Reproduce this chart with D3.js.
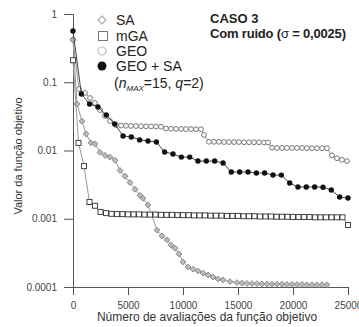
<!DOCTYPE html>
<html>
<head>
<meta charset="utf-8">
<script src="https://cdn.jsdelivr.net/npm/d3@7"></script>
<style>
  body { margin: 0; background: #fff; }
  svg { display: block; font-family: 'Liberation Sans', Arial, sans-serif; }
</style>
</head>
<body>
<svg id="chart" width="359" height="327"></svg>
<script>
// values
const saX = [0, 360, 820, 1180, 1640, 2000, 2450, 2910, 3360, 3820, 4270, 4730, 5180, 5640, 6090, 6360, 6820,
  7640, 8090, 8550, 8910, 9270, 9640, 10000, 10450, 10910, 11360, 11820, 12270, 12730, 13180, 13640, 14270, 14910,
  15360, 15820, 16270, 16730, 17180, 17640, 18090, 18550, 19000, 19450, 19910, 20360, 20820, 21270, 21730, 22180, 22640, 23090];
const saY = [0.42, 0.048, 0.027, 0.0175, 0.0129, 0.0125, 0.0094, 0.0085, 0.008, 0.0072, 0.0051, 0.0042, 0.0034, 0.0027, 0.0022, 0.002, 0.00159,
  0.00068, 0.00056, 0.00049, 0.00041, 0.00037, 0.000305, 0.000233, 0.000196, 0.000183, 0.000172, 0.00016, 0.00015, 0.00014, 0.000131, 0.000127, 0.00012, 0.000116,
  0.000114, 0.000113, 0.000112, 0.000112, 0.000111, 0.000111, 0.00011, 0.00011, 0.00011, 0.000109, 0.000109, 0.000109, 0.000109, 0.000108, 0.000108, 0.000108, 0.000108, 0.000108];

const mgaX = [0, 500, 1000, 1500, 2000, 2500, 3000, 3500, 4000, 4500,
  5000, 5500, 6000, 6500, 7000, 7500, 8000, 8500, 9000, 9500,
  10000, 10500, 11000, 11500, 12000, 12500, 13000, 13500, 14000, 14500,
  15000, 15500, 16000, 16500, 17000, 17500, 18000, 18500, 19000, 19500,
  20000, 20500, 21000, 21500, 22000, 22500, 23000, 23500, 24000, 24500, 25000];
const mgaY = [0.21, 0.0129, 0.0059, 0.00176, 0.00155, 0.00126, 0.00121, 0.00118, 0.00117, 0.00117,
  0.00116, 0.00116, 0.00116, 0.00115, 0.00115, 0.00115, 0.00114, 0.00114, 0.00114, 0.00113,
  0.00113, 0.00113, 0.00112, 0.00112, 0.00112, 0.00111, 0.00111, 0.00111, 0.0011, 0.0011,
  0.0011, 0.00109, 0.00109, 0.00109, 0.00108, 0.00108, 0.00108, 0.00107, 0.00107, 0.00107,
  0.00106, 0.00106, 0.00106, 0.00106, 0.00105, 0.00105, 0.00105, 0.00105, 0.00105, 0.00105, 0.00081];

const geoX = [0, 545, 1090, 1545, 2000, 2455, 2910, 3365, 3910, 4365, 4820, 5270, 5730, 6180, 6640, 7090, 7545, 8000,
  8455, 8910, 9365, 9820, 10270, 10730, 11180, 11640, 11910, 12360, 12820, 13270, 13730, 14180, 14640, 15090, 15550,
  16000, 16450, 16910, 17360, 17730, 18090, 18545, 19000, 19450, 19910, 20360, 20820, 21270, 21730, 22180, 22640,
  23090, 23545, 24000, 24450, 24910];
const geoY = [0.42, 0.0796, 0.0696, 0.0588, 0.0497, 0.0392, 0.032, 0.027, 0.0236, 0.0232, 0.023, 0.0229, 0.0228, 0.0227, 0.0226, 0.0225, 0.0224, 0.0223,
  0.021, 0.0208, 0.0207, 0.0207, 0.0206, 0.0206, 0.0205, 0.0205, 0.0169, 0.0134, 0.0134, 0.0134, 0.0133, 0.0133, 0.0133, 0.0133, 0.0132,
  0.0132, 0.0132, 0.0132, 0.0131, 0.0131, 0.011, 0.0109, 0.0109, 0.0109, 0.0109, 0.0109, 0.0109, 0.0108, 0.0108, 0.0108, 0.0108,
  0.0108, 0.0085, 0.0077, 0.0073, 0.007];

const geoSaX = [0, 760, 1510, 2270, 3030, 3790, 4550, 5300, 6060, 6820, 7580, 8330, 9090, 9850, 10610, 11360, 12120,
  12880, 13640, 14390, 15150, 15910, 16670, 17420, 18180, 18940, 19700, 20450, 21210, 21970, 22730, 23480, 24240, 25000];
const geoSaY = [0.563, 0.0673, 0.048, 0.0434, 0.0331, 0.0245, 0.0163, 0.0158, 0.0143, 0.0138, 0.0133, 0.0095, 0.0089, 0.008, 0.008, 0.007, 0.007,
  0.007, 0.00656, 0.00484, 0.00484, 0.00484, 0.00468, 0.00468, 0.00438, 0.00436, 0.00334, 0.00292, 0.00292, 0.00292, 0.0029, 0.00264, 0.00208, 0.00201];

const xMajor = [0, 5000, 10000, 15000, 20000, 25000];
const xMinor = [2500, 7500, 12500, 17500, 22500];
const yMajor = [1, 0.1, 0.01, 0.001, 0.0001];
const yMajorLabels = ['1', '0.1', '0.01', '0.001', '0.0001'];

const svg = d3.select('#chart');

const x = d3.scaleLinear().domain([0, 25000]).range([73, 348]);
const y = d3.scaleLog().domain([0.0001, 1]).range([287, 14]);

// minor log ticks 2..9 of each decade
const yMinor = [];
yMajor.slice(1).forEach(d => {
  for (let k = 2; k <= 9; k++) yMinor.push(d * k);
});

const axisColor = '#555';

const gx = svg.append('g').attr('transform', `translate(0,${y(0.0001)})`);
gx.call(d3.axisBottom(x).tickValues(xMinor).tickSize(4).tickFormat(''));
gx.call(
  d3
    .axisBottom(x)
    .tickValues(xMajor)
    .tickSize(8)
    .tickPadding(7)
    .tickFormat(d3.format('d'))
);
gx.selectAll('.domain').attr('stroke', axisColor);
gx.selectAll('line').attr('stroke', axisColor);
gx.selectAll('text').attr('fill', '#444').style('font-size', '10px');

const gy = svg.append('g').attr('transform', `translate(${x(0)},0)`);
gy.call(d3.axisLeft(y).tickValues(yMinor).tickSize(5).tickFormat(''));
gy.call(
  d3
    .axisLeft(y)
    .tickValues(yMajor)
    .tickSize(9)
    .tickPadding(7)
    .tickFormat((d, i) => yMajorLabels[i])
);
gy.selectAll('.domain').attr('stroke', axisColor);
gy.selectAll('line').attr('stroke', axisColor);
gy.selectAll('text').attr('fill', '#444').style('font-size', '10px');

const line = d3
  .line()
  .x(d => x(d[0]))
  .y(d => y(d[1]));

const series = [
  { key: 'GEO', xs: geoX, ys: geoY, lineColor: '#999' },
  { key: 'SA', xs: saX, ys: saY, lineColor: '#999' },
  { key: 'mGA', xs: mgaX, ys: mgaY, lineColor: '#999' },
  { key: 'GEOSA', xs: geoSaX, ys: geoSaY, lineColor: '#444' }
];

series.forEach(s => {
  const pts = s.xs.map((v, i) => [v, s.ys[i]]);
  const g = svg.append('g').attr('class', s.key);
  g.append('path')
    .datum(pts)
    .attr('fill', 'none')
    .attr('stroke', s.lineColor)
    .attr('stroke-width', 1)
    .attr('d', line);

  if (s.key === 'SA') {
    g.selectAll('path.m')
      .data(pts)
      .enter()
      .append('path')
      .attr('class', 'm')
      .attr('d', d3.symbol(d3.symbolDiamond2, 22))
      .attr('transform', d => `translate(${x(d[0])},${y(d[1])})`)
      .attr('fill', '#bbb')
      .attr('stroke', '#777')
      .attr('stroke-width', 0.8);
  } else if (s.key === 'mGA') {
    g.selectAll('rect')
      .data(pts)
      .enter()
      .append('rect')
      .attr('x', d => x(d[0]) - 2.5)
      .attr('y', d => y(d[1]) - 2.5)
      .attr('width', 5)
      .attr('height', 5)
      .attr('fill', '#fff')
      .attr('stroke', '#444')
      .attr('stroke-width', 1);
  } else if (s.key === 'GEO') {
    g.selectAll('circle')
      .data(pts)
      .enter()
      .append('circle')
      .attr('cx', d => x(d[0]))
      .attr('cy', d => y(d[1]))
      .attr('r', 2.4)
      .attr('fill', '#fff')
      .attr('stroke', '#777')
      .attr('stroke-width', 1);
  } else {
    g.selectAll('circle')
      .data(pts)
      .enter()
      .append('circle')
      .attr('cx', d => x(d[0]))
      .attr('cy', d => y(d[1]))
      .attr('r', 2.7)
      .attr('fill', '#111');
  }
});

// legend
const legend = svg.append('g').style('font-size', '14px').attr('fill', '#222');
legend
  .append('path')
  .attr('d', d3.symbol(d3.symbolDiamond2, 40))
  .attr('transform', 'translate(102,20)')
  .attr('fill', '#fff')
  .attr('stroke', '#aaa')
  .attr('stroke-width', 1.2);
legend.append('text').attr('x', 116).attr('y', 25).text('SA');
legend
  .append('rect')
  .attr('x', 98.5)
  .attr('y', 31.5)
  .attr('width', 9)
  .attr('height', 9)
  .attr('fill', '#fff')
  .attr('stroke', '#777');
legend.append('text').attr('x', 116).attr('y', 41).text('mGA');
legend
  .append('circle')
  .attr('cx', 102)
  .attr('cy', 51)
  .attr('r', 4)
  .attr('fill', '#fff')
  .attr('stroke', '#bbb')
  .attr('stroke-width', 1.2);
legend.append('text').attr('x', 116).attr('y', 56).text('GEO');
legend
  .append('circle')
  .attr('cx', 102)
  .attr('cy', 66)
  .attr('r', 4.5)
  .attr('fill', '#111');
legend.append('text').attr('x', 116).attr('y', 71).text('GEO + SA');

const param = legend.append('text').attr('x', 114).attr('y', 88);
param.append('tspan').text('(');
param.append('tspan').style('font-style', 'italic').text('n');
param
  .append('tspan')
  .style('font-style', 'italic')
  .style('font-size', '8px')
  .attr('dy', 3)
  .text('MAX');
param.append('tspan').attr('dy', -3).text('=15, ');
param.append('tspan').style('font-style', 'italic').text('q');
param.append('tspan').text('=2)');

// title block
const title = svg
  .append('g')
  .style('font-size', '13px')
  .style('font-weight', 'bold')
  .attr('fill', '#222');
title.append('text').attr('x', 210).attr('y', 23).text('CASO 3');
const t2 = title.append('text').attr('x', 210).attr('y', 38).attr('textLength', 136);
t2.append('tspan').text('Com ruido (');
t2.append('tspan').style('font-weight', 'normal').text('σ');
t2.append('tspan').text(' = 0,0025)');

// axis titles
svg
  .append('text')
  .attr('transform', 'translate(22,156) rotate(-90)')
  .attr('text-anchor', 'middle')
  .style('font-size', '11px')
  .attr('fill', '#333')
  .text('Valor da função objetivo');

svg
  .append('text')
  .attr('x', 207)
  .attr('y', 321)
  .attr('text-anchor', 'middle')
  .style('font-size', '12px')
  .attr('fill', '#333')
  .text('Número de avaliações da função objetivo');
</script>
</body>
</html>
